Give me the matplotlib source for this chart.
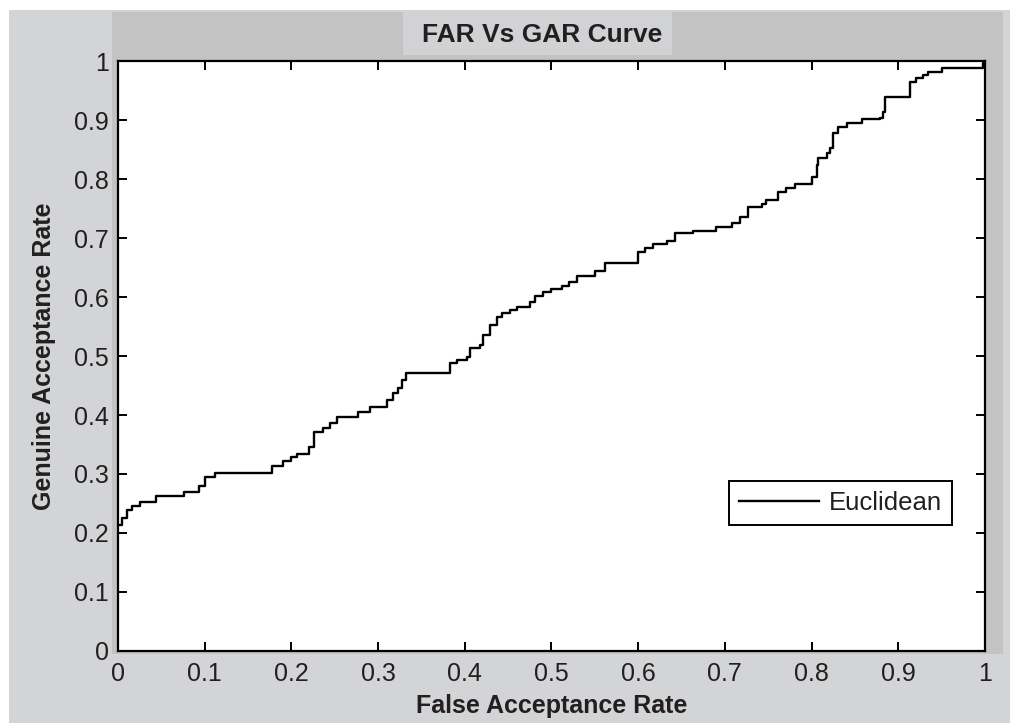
import matplotlib
matplotlib.use('Agg')
import matplotlib.pyplot as plt
from matplotlib.patches import Rectangle

# step points of the FAR vs GAR curve
far = [0, 0.005, 0.01, 0.016, 0.025, 0.044, 0.076, 0.093, 0.10, 0.112,
       0.178, 0.19, 0.20, 0.206, 0.22, 0.226, 0.236, 0.245, 0.253, 0.277,
       0.291, 0.31, 0.317, 0.323, 0.328, 0.332, 0.383, 0.391, 0.403, 0.406,
       0.418, 0.421, 0.429, 0.437, 0.443, 0.452, 0.46, 0.475, 0.481, 0.49,
       0.50, 0.512, 0.52, 0.529, 0.55, 0.562, 0.60, 0.608, 0.617, 0.633,
       0.642, 0.663, 0.69, 0.708, 0.717, 0.727, 0.743, 0.748, 0.761, 0.771,
       0.781, 0.80, 0.806, 0.808, 0.818, 0.821, 0.825, 0.83, 0.841, 0.858,
       0.879, 0.882, 0.885, 0.913, 0.921, 0.929, 0.934, 0.95, 0.998, 1.0]
gar = [0.213, 0.225, 0.239, 0.246, 0.252, 0.263, 0.269, 0.28, 0.295, 0.302,
       0.314, 0.322, 0.328, 0.334, 0.346, 0.371, 0.378, 0.386, 0.397, 0.405,
       0.414, 0.425, 0.437, 0.446, 0.459, 0.471, 0.488, 0.493, 0.499, 0.514,
       0.519, 0.536, 0.553, 0.566, 0.573, 0.578, 0.583, 0.592, 0.602, 0.608,
       0.613, 0.619, 0.625, 0.636, 0.644, 0.657, 0.676, 0.683, 0.69, 0.695,
       0.708, 0.712, 0.719, 0.725, 0.736, 0.752, 0.758, 0.764, 0.778, 0.785,
       0.792, 0.803, 0.824, 0.835, 0.844, 0.853, 0.878, 0.888, 0.895, 0.902,
       0.903, 0.914, 0.939, 0.964, 0.971, 0.976, 0.981, 0.988, 0.997, 1.0]

ticks = [0, 0.1, 0.2, 0.3, 0.4, 0.5, 0.6, 0.7, 0.8, 0.9, 1]
tick_labels = ['0', '0.1', '0.2', '0.3', '0.4', '0.5', '0.6', '0.7', '0.8', '0.9', '1']

light = '#d3d4d6'
dark = '#c3c3c3'
ink = '#231f20'

plt.rcParams['font.family'] = ['Liberation Sans', 'DejaVu Sans']

fig = plt.figure(figsize=(10.1, 7.23), dpi=100, facecolor=light)

# white margins, darker frame and lighter title box behind the axes
fig.patches.append(Rectangle((0, 0.9862), 1, 0.0138, transform=fig.transFigure,
                             facecolor='white', edgecolor='none', zorder=-2))
fig.patches.append(Rectangle((0, 0), 0.0089, 1, transform=fig.transFigure,
                             facecolor='white', edgecolor='none', zorder=-2))
fig.patches.append(Rectangle((0.1109, 0.0954), 0.882, 0.888, transform=fig.transFigure,
                             facecolor=dark, edgecolor='none', zorder=-2))
fig.patches.append(Rectangle((0.399, 0.9239), 0.2663, 0.0595, transform=fig.transFigure,
                             facecolor='#d0d2d4', edgecolor='none', zorder=-1))

ax = fig.add_axes([0.1168, 0.0996, 0.8584, 0.816])
ax.set_zorder(1)
ax.set_facecolor('white')

ax.plot(far, gar, color='black', lw=1.7, drawstyle='steps-post', label='Euclidean')

ax.set_xlim(0, 1)
ax.set_ylim(0, 1)
ax.set_xticks(ticks)
ax.set_xticklabels(tick_labels)
ax.set_yticks(ticks)
ax.set_yticklabels(tick_labels)
ax.tick_params(direction='in', length=6.5, width=1.4, labelsize=18,
               top=True, right=True, colors='black', labelcolor=ink)
ax.tick_params(axis='x', pad=8)
ax.tick_params(axis='y', pad=6.5)
for s in ax.spines.values():
    s.set_linewidth(1.6)
    s.set_color('black')

fig.text(0.5366, 0.9419, 'FAR Vs GAR Curve', ha='center', va='baseline',
         fontsize=19, fontweight='bold', color=ink)
ax.set_xlabel('False Acceptance Rate', fontsize=18, fontweight='bold', color=ink,
              va='baseline')
ax.xaxis.set_label_coords(0.5, -0.105)
ax.set_ylabel('Genuine Acceptance Rate', fontsize=18, fontweight='bold', color=ink,
              va='baseline')
ax.yaxis.set_label_coords(-0.0772, 0.5)

leg = ax.legend(loc='center', bbox_to_anchor=(0.8335, 0.251), fontsize=18.5,
                fancybox=False, framealpha=1, edgecolor='black',
                handlelength=3.1, borderpad=0.4, handletextpad=0.4)
leg.get_frame().set_linewidth(1.4)
for t in leg.get_texts():
    t.set_color(ink)

fig.savefig('out.png', dpi=100, facecolor=fig.get_facecolor())
